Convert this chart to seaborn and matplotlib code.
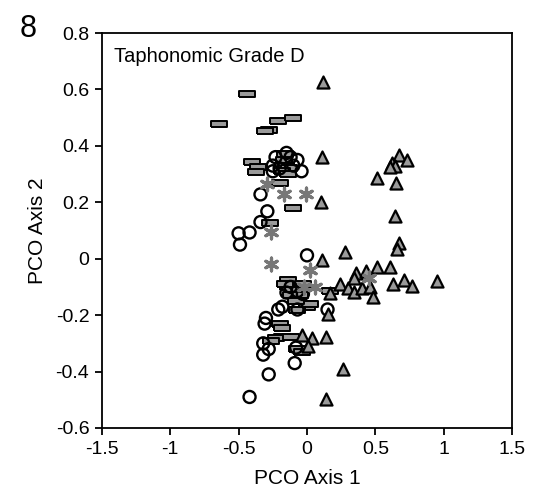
import numpy as np
import matplotlib
matplotlib.use("Agg")
import matplotlib.pyplot as plt
from matplotlib.ticker import FuncFormatter
import seaborn as sns

# PCO scores, one group per marker type
circle_x = [-0.23, -0.07, -0.04, -0.25, -0.25, -0.15, -0.12, -0.34, -0.29, -0.34, -0.42, -0.50, -0.49, 0.00,
            -0.20, -0.10,
            -0.42, -0.28, -0.09, -0.32, -0.28, -0.32, -0.31, -0.30, -0.21, -0.18, -0.07, -0.03, -0.07, -0.08,
            0.15, -0.12, -0.15]
circle_y = [0.36, 0.35, 0.31, 0.33, 0.31, 0.375, 0.36, 0.228, 0.168, 0.13, 0.093, 0.09, 0.05, 0.012,
            0.32, 0.33,
            -0.49, -0.41, -0.37, -0.34, -0.32, -0.30, -0.23, -0.21, -0.18, -0.17, -0.18, -0.125, -0.115, -0.315,
            -0.18, -0.10, -0.12]

rect_x = [-0.44, -0.64, -0.21, -0.10, -0.28, -0.31, -0.40, -0.36, -0.37, -0.20, -0.10, -0.27,
          -0.17, -0.15, -0.13, -0.18, -0.14, -0.16,
          -0.14, -0.14, -0.03, -0.10, -0.12, -0.05, 0.01, 0.00, -0.20, -0.18, -0.18, -0.23, -0.12, -0.26,
          -0.07, -0.04, 0.17, 0.02, -0.07, -0.16, -0.08]
rect_y = [0.583, 0.477, 0.487, 0.50, 0.455, 0.452, 0.342, 0.324, 0.306, 0.27, 0.18, 0.125,
          0.35, 0.33, 0.32, 0.31, 0.30, 0.37,
          -0.077, -0.10, -0.09, -0.11, -0.13, -0.13, -0.16, -0.17, -0.23, -0.245, -0.277, -0.28, -0.277, -0.29,
          -0.32, -0.33, -0.113, -0.16, -0.18, -0.09, -0.15]

tri_x = [0.12, 0.11, 0.10, 0.67, 0.73, 0.62, 0.64, 0.61, 0.51, 0.65, 0.64, 0.67, 0.66, 0.28, 0.11,
         0.36, 0.43, 0.51, 0.61, 0.63, 0.71, 0.77, 0.95, 0.24, 0.17, 0.30, 0.34, 0.40, 0.46, 0.48, 0.34,
         0.15, -0.04, 0.04, 0.14, 0.01, 0.26, 0.14]
tri_y = [0.626, 0.36, 0.20, 0.367, 0.35, 0.338, 0.327, 0.324, 0.285, 0.27, 0.15, 0.054, 0.036, 0.025, -0.003,
         -0.05, -0.045, -0.03, -0.03, -0.088, -0.077, -0.095, -0.08, -0.09, -0.12, -0.105, -0.117, -0.105, -0.10,
         -0.137, -0.07, -0.195, -0.27, -0.28, -0.277, -0.31, -0.39, -0.497]

star_x = [-0.29, -0.17, -0.01, -0.26, -0.26, 0.02, 0.06, 0.45, -0.02]
star_y = [0.264, 0.23, 0.23, 0.093, -0.017, -0.04, -0.10, -0.067, -0.10]

sns.set_style("ticks")
plt.rcParams['font.family'] = ['Liberation Sans', 'DejaVu Sans']
plt.rcParams['text.color'] = 'black'
plt.rcParams['axes.labelcolor'] = 'black'

fig = plt.figure(figsize=(5.33, 5.0), dpi=100)
ax = fig.add_axes([0.191, 0.144, 0.770, 0.790])

# flat bar marker
bar = [(-1.5, -0.5), (1.5, -0.5), (1.5, 0.5), (-1.5, 0.5), (-1.5, -0.5)]

sns.scatterplot(x=rect_x, y=rect_y, marker=bar, s=135, color="#9a9a9a",
                edgecolor="black", linewidth=1.4, ax=ax, zorder=2)
sns.scatterplot(x=circle_x, y=circle_y, marker="o", s=75, fc="none",
                edgecolor="black", linewidth=1.7, ax=ax, zorder=3)
sns.scatterplot(x=tri_x, y=tri_y, marker="^", s=75, color="#9a9a9a",
                edgecolor="black", linewidth=1.6, ax=ax, zorder=4)
sns.scatterplot(x=star_x, y=star_y, marker=(6, 2, 0), s=85, color="#777777",
                linewidth=2.3, ax=ax, zorder=5)

ax.set_xlim(-1.5, 1.5)
ax.set_ylim(-0.6, 0.8)
ax.set_xticks([-1.5, -1, -0.5, 0, 0.5, 1, 1.5])
ax.set_yticks(np.round(np.arange(-0.6, 0.81, 0.2), 1))
ax.xaxis.set_major_formatter(FuncFormatter(lambda v, p: "%g" % v))
ax.yaxis.set_major_formatter(FuncFormatter(lambda v, p: "%g" % round(v, 1)))
ax.tick_params(direction="out", length=5, width=1.3, labelsize=14, colors="black", pad=4)

for sp in ax.spines.values():
    sp.set_linewidth(1.3)
    sp.set_color("black")
    sp.set_visible(True)

ax.set_xlabel("PCO Axis 1", fontsize=15, labelpad=8)
ax.set_ylabel("PCO Axis 2", fontsize=15, labelpad=6)
ax.text(0.03, 0.965, "Taphonomic Grade D", transform=ax.transAxes, fontsize=14.5,
        ha="left", va="top")
fig.text(0.036, 0.912, "8", fontsize=22, ha="left", va="bottom")

fig.savefig("out.png", dpi=100)
